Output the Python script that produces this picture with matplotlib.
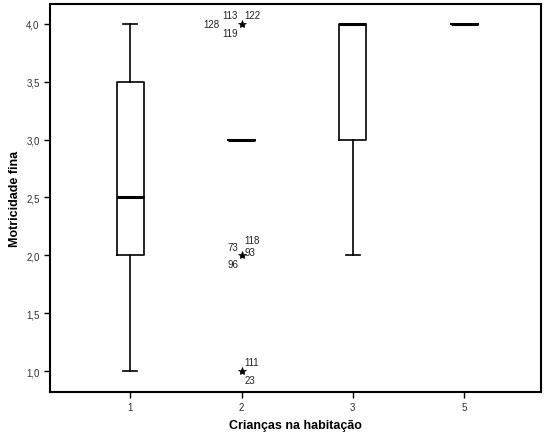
import matplotlib
matplotlib.use("Agg")
import matplotlib.pyplot as plt

plt.rcParams['font.family'] = ['Liberation Sans', 'DejaVu Sans']

# Boxplot summaries per group (Crianças na habitação)
categories = ["1", "2", "3", "5"]
q1 = [2.0, 3.0, 3.0, 4.0]
medians = [2.5, 3.0, 4.0, 4.0]
q3 = [3.5, 3.0, 4.0, 4.0]
whisker_low = [1.0, 3.0, 2.0, 4.0]
whisker_high = [4.0, 3.0, 4.0, 4.0]

# Extreme values (category, value, case labels with pixel offsets)
extreme_cat = ["2", "2", "2"]
extreme_val = [4.0, 2.0, 1.0]
extreme_ids = [
    [("113", -12, -9), ("122", 11, -9), ("128", -30, 0), ("119", -11, 9)],
    [("118", 10, -15), ("73", -9, -8), ("93", 8, -3), ("96", -9, 9)],
    [("111", 10, -9), ("23", 8, 9)],
]

fig = plt.figure(figsize=(5.44, 4.39), dpi=100)
ax = fig.add_axes([50 / 544, 1 - 393 / 439, 491 / 544, 388 / 439])

positions = list(range(len(categories)))
stats = []
for i in positions:
    stats.append(dict(med=medians[i], q1=q1[i], q3=q3[i],
                      whislo=whisker_low[i], whishi=whisker_high[i], fliers=[]))

ax.bxp(stats, positions=positions, widths=0.24, showfliers=False,
       boxprops=dict(color="black", linewidth=1.2),
       medianprops=dict(color="black", linewidth=2.2, solid_capstyle="butt"),
       whiskerprops=dict(color="black", linewidth=1.2),
       capprops=dict(color="black", linewidth=1.2),
       capwidths=0.13)

for cat, val, ids in zip(extreme_cat, extreme_val, extreme_ids):
    x = categories.index(cat)
    ax.plot([x], [val], marker="*", markersize=6, color="black",
            markeredgewidth=0.5, linestyle="none")
    for txt, dx, dy in ids:
        ax.annotate(txt, (x, val), xytext=(dx * 0.72, -dy * 0.72),
                    textcoords="offset points", ha="center", va="center",
                    fontsize=7, color="#222222")

ax.set_xlim(-0.72, 3.69)
ax.set_ylim(0.82, 4.17)
ax.set_xticks(positions)
ax.set_xticklabels(categories)
yt = [1.0, 1.5, 2.0, 2.5, 3.0, 3.5, 4.0]
ax.set_yticks(yt)
ax.set_yticklabels([f"{v:.1f}".replace(".", ",") for v in yt])
ax.tick_params(axis="both", labelsize=7, length=4, width=1, colors="black",
               labelcolor="#333333")
for s in ax.spines.values():
    s.set_linewidth(1.5)

ax.set_xlabel("Crianças na habitação", fontsize=9, fontweight="bold", labelpad=5)
ax.set_ylabel("Motricidade fina", fontsize=9, fontweight="bold", labelpad=3.5)

fig.savefig("out.png", dpi=100)
